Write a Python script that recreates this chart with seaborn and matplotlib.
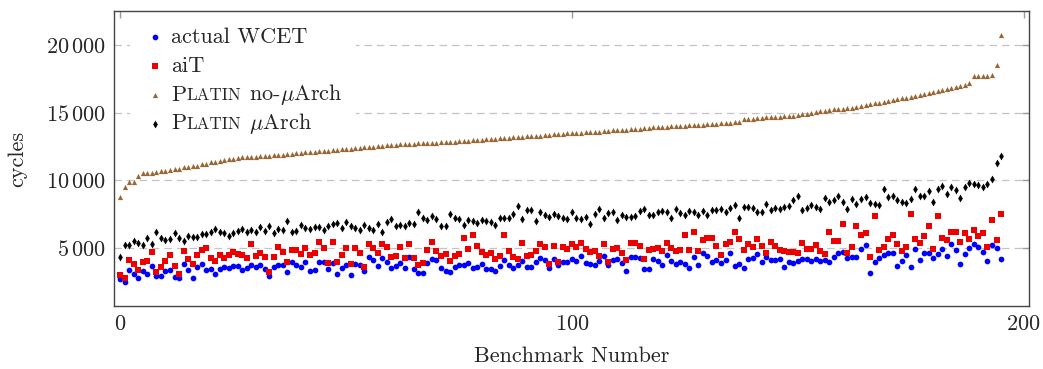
import seaborn as sns
import matplotlib.pyplot as plt
import matplotlib.ticker as mticker
from matplotlib.patches import Rectangle
import numpy as np
import pandas as pd

# values, benchmarks sorted by the Platin no-uArch bound
actual_wcet = [
    2650, 2430, 3340, 3050, 2770, 3240, 3020, 3640, 2870, 2870, 3240, 3340, 2850, 2720, 3760, 3320, 2750, 3540, 3790, 3370,
    3440, 3050, 3440, 3540, 3490, 3640, 3640, 3320, 3490, 3740, 3590, 3740, 3420, 2870, 3590, 3740, 3710, 3220, 3910, 3690,
    3540, 3940, 3290, 3370, 3910, 3940, 3420, 3840, 3050, 3520, 3690, 3000, 3760, 3740, 3290, 4330, 4060, 3660, 4260, 3960,
    3470, 3610, 3860, 3520, 4310, 3440, 3120, 3120, 3860, 4130, 4110, 3490, 3270, 3220, 3540, 3740, 3690, 3860, 3470, 3540,
    3810, 3420, 3390, 3290, 3640, 4080, 3740, 3490, 3740, 4040, 3540, 3540, 3910, 4260, 4110, 3470, 4180, 3690, 3960, 3910,
    4160, 4010, 4410, 3840, 3760, 3690, 4010, 4360, 3740, 4110, 4160, 3840, 3270, 4310, 4310, 4260, 3390, 3440, 4180, 4010,
    3710, 4480, 4010, 3790, 3910, 3810, 3490, 4330, 3710, 4600, 4410, 3940, 4110, 3840, 4060, 4630, 3660, 3810, 3520, 4160,
    4260, 4510, 3960, 4280, 4060, 4110, 4180, 3570, 3910, 3890, 3990, 4130, 4130, 4040, 4130, 4010, 4060, 3940, 4330, 4580,
    4680, 4210, 4280, 4280, 4880, 5200, 3120, 3960, 4260, 4430, 4600, 4630, 3660, 3990, 4480, 3540, 4930, 4060, 4600, 4600,
    4230, 4510, 4900, 4360, 5270, 4830, 3760, 4560, 5000, 5250, 5050, 4680, 4010, 5220, 5000, 4180,
]
ait = [
    2970, 2770, 4060, 3790, 3340, 3910, 3990, 4700, 3170, 3590, 4040, 4460, 3610, 3050, 4750, 4180, 3810, 4430, 4800, 5000,
    4230, 3990, 4480, 4260, 4430, 4650, 4560, 4480, 4230, 5270, 4360, 4630, 4330, 3220, 4280, 5070, 4680, 3910, 4800, 4800,
    4510, 4980, 4460, 4600, 5420, 5000, 3840, 5420, 3960, 4430, 4950, 3790, 4980, 4600, 3540, 5250, 5000, 4630, 5270, 5050,
    4330, 4360, 5030, 4210, 5270, 4260, 3740, 3840, 4830, 5420, 4750, 4380, 4560, 4010, 4380, 4530, 5720, 4880, 5970, 5100,
    4650, 4430, 4630, 4160, 4360, 5920, 4750, 4280, 4130, 5320, 4360, 4460, 4780, 5250, 5030, 3810, 5150, 3940, 5050, 4880,
    5270, 5050, 5370, 4900, 4650, 4750, 4410, 5300, 3960, 4900, 5000, 4600, 4110, 5370, 5350, 5100, 4160, 4800, 4930, 4980,
    4730, 5350, 4980, 4750, 4850, 5940, 4850, 6190, 4730, 5550, 5690, 5690, 5100, 4430, 5270, 5450, 6160, 5670, 4800, 5270,
    5030, 5620, 5150, 4580, 5420, 5150, 4850, 4750, 4680, 4680, 4630, 5350, 4930, 4880, 5170, 4750, 4530, 6140, 5500, 5470,
    6730, 4580, 5070, 6630, 5940, 6090, 4280, 7330, 4800, 5050, 5620, 5940, 5270, 4730, 5070, 7530, 5640, 5370, 5840, 6580,
    4930, 7380, 5720, 5590, 6190, 6160, 5420, 6090, 5670, 6290, 5890, 6060, 5030, 7050, 5550, 7530,
]
platin_no_uarch = [
    8740, 9500, 9830, 9880, 10320, 10540, 10550, 10560, 10580, 10670, 10690, 10790, 10800, 10830, 10950, 10960, 11050, 11080, 11200, 11230,
    11340, 11380, 11450, 11500, 11560, 11600, 11640, 11680, 11700, 11720, 11740, 11760, 11780, 11800, 11830, 11860, 11900, 11930, 11960, 12000,
    12030, 12060, 12080, 12100, 12130, 12160, 12190, 12220, 12250, 12280, 12300, 12330, 12360, 12400, 12430, 12460, 12490, 12520, 12550, 12580,
    12610, 12640, 12660, 12680, 12700, 12710, 12720, 12730, 12740, 12760, 12780, 12800, 12820, 12840, 12860, 12880, 12900, 12920, 12940, 12960,
    12990, 13020, 13050, 13080, 13110, 13140, 13160, 13180, 13200, 13220, 13240, 13260, 13280, 13300, 13330, 13360, 13390, 13410, 13430, 13460,
    13480, 13500, 13520, 13540, 13560, 13580, 13600, 13630, 13660, 13680, 13700, 13720, 13740, 13760, 13770, 13780, 13830, 13880, 13930, 13950,
    13960, 13970, 13980, 14000, 14020, 14040, 14060, 14080, 14100, 14120, 14140, 14160, 14180, 14200, 14220, 14250, 14280, 14300, 14500, 14520,
    14560, 14590, 14620, 14650, 14670, 14690, 14710, 14740, 14770, 14790, 14830, 14870, 14930, 14980, 15050, 15100, 15160, 15200, 15240, 15270,
    15290, 15330, 15380, 15430, 15480, 15540, 15610, 15680, 15750, 15820, 15880, 15930, 15990, 16050, 16110, 16170, 16230, 16300, 16350, 16420,
    16500, 16580, 16660, 16740, 16830, 16920, 17000, 17080, 17220, 17680, 17700, 17720, 17740, 17780, 18520, 20750,
]
platin_uarch = [
    4330, 5220, 5170, 5470, 5350, 5220, 5720, 5270, 6140, 5720, 5590, 5640, 6090, 5720, 5520, 5840, 5820, 5820, 6020, 6040,
    6190, 6410, 6140, 6060, 5870, 6110, 6260, 6390, 6190, 6290, 6190, 6560, 6260, 6630, 6060, 6410, 6290, 6980, 6190, 6210,
    6680, 6440, 6390, 6540, 6560, 6290, 6630, 6780, 6860, 6490, 6910, 6610, 6460, 6340, 6710, 6460, 6290, 6760, 6190, 6930,
    7130, 6630, 6710, 6610, 6830, 6730, 7620, 7200, 7030, 7380, 7100, 6630, 6630, 7530, 7230, 7100, 6710, 7050, 6980, 6860,
    7050, 6980, 6930, 6680, 7230, 7230, 7180, 7500, 8120, 7100, 7800, 7800, 6980, 7620, 7430, 7300, 7500, 7380, 7200, 7100,
    7620, 7200, 7100, 7300, 6780, 7480, 7850, 7230, 7570, 7620, 7080, 7400, 7300, 7250, 7380, 7700, 7850, 7400, 7430, 7670,
    7720, 7620, 7180, 7850, 7600, 7450, 7720, 7620, 7400, 7700, 7400, 7820, 7800, 7850, 7670, 7950, 8170, 7200, 8000, 8020,
    7920, 7620, 7620, 8240, 7800, 7920, 7900, 8000, 8090, 8520, 8840, 7770, 7970, 8170, 8040, 7900, 8710, 8420, 8560, 8840,
    8370, 7850, 8590, 8240, 8590, 8760, 8340, 8240, 8170, 9310, 8790, 8810, 8560, 8370, 8290, 8610, 9330, 8810, 8810, 9210,
    8370, 9360, 9580, 9010, 9460, 9280, 8690, 9530, 9800, 9750, 9630, 9530, 9750, 10050, 11250, 11820,
]
bench = np.arange(len(actual_wcet))

sns.set_style('white')
plt.rcParams['font.family'] = ['cmr10']
plt.rcParams['mathtext.fontset'] = 'cm'
plt.rcParams['axes.formatter.use_mathtext'] = True

data = pd.DataFrame({'bench': bench, 'wcet': actual_wcet, 'ait': ait,
                     'noarch': platin_no_uarch, 'arch': platin_uarch})

fig = plt.figure(figsize=(10.43, 3.69), dpi=100)
ax = fig.add_axes([0.1093, 0.1707, 0.8773, 0.7995])

sns.scatterplot(x='bench', y='wcet', data=data, ax=ax, marker='o', color='#0000ff',
                s=17, linewidth=0, label='actual WCET', zorder=3)
sns.scatterplot(x='bench', y='ait', data=data, ax=ax, marker='s', color='#ee0000',
                s=17, linewidth=0, label='aiT', zorder=3)
sns.scatterplot(x='bench', y='noarch', data=data, ax=ax, marker='^', color='#9a6634',
                s=14, linewidth=0, label='P', zorder=3)
sns.scatterplot(x='bench', y='arch', data=data, ax=ax, marker='d', color='black',
                s=16, linewidth=0, label='P', zorder=3)

ax.set_xlim(-1.4, 201.2)
ax.set_ylim(680, 22530)
ax.set_xticks([0, 100, 200])
ax.set_yticks([5000, 10000, 15000, 20000])


def thousands(v, pos):
    v = int(round(v))
    if v >= 1000:
        return r'$%d\,%03d$' % (v // 1000, v % 1000)
    return r'$%d$' % v


ax.yaxis.set_major_formatter(mticker.FuncFormatter(thousands))
ax.xaxis.set_major_formatter(mticker.FuncFormatter(thousands))
ax.tick_params(direction='in', top=True, right=True, length=5, width=1,
               color='#9a9a9a', labelsize=16, pad=6)
ax.yaxis.grid(True, linestyle=(0, (6, 4)), color='#c4c4c4', linewidth=0.9)
ax.xaxis.grid(False)
ax.set_axisbelow(True)
for sp in ax.spines.values():
    sp.set_color('#444444')
    sp.set_linewidth(1)

ax.set_xlabel('Benchmark Number', fontsize=16, labelpad=9)
ax.set_ylabel('cycles', fontsize=16, labelpad=13)

# white box behind the legend hides the grid lines
ax.add_patch(Rectangle((0.0175, 0.569), 0.247, 0.417, transform=ax.transAxes,
                       facecolor='white', edgecolor='none', zorder=1))

leg = ax.legend(loc='upper left', bbox_to_anchor=(0.023, 0.975), borderaxespad=0,
                fontsize=16, frameon=False, handletextpad=0.22, labelspacing=0.42,
                handlelength=1.0, markerscale=1.0)
leg.set_zorder(5)

fig.canvas.draw()
# "Platin" in small caps: big P from the legend, the rest as smaller text after it
for txt, rest in zip(leg.get_texts()[2:], [' no-$\\mu$Arch', ' $\\mu$Arch']):
    sc = ax.annotate('LATIN', xy=(1, 0), xycoords=txt, xytext=(0.6, 3.1),
                     textcoords='offset points', fontsize=12.3, va='baseline',
                     ha='left', zorder=6)
    ax.annotate(rest, xy=(1, 0), xycoords=sc, xytext=(0, 2.4),
                textcoords='offset points', fontsize=16, va='baseline',
                ha='left', zorder=6)

plt.savefig('out.png', dpi=100)
